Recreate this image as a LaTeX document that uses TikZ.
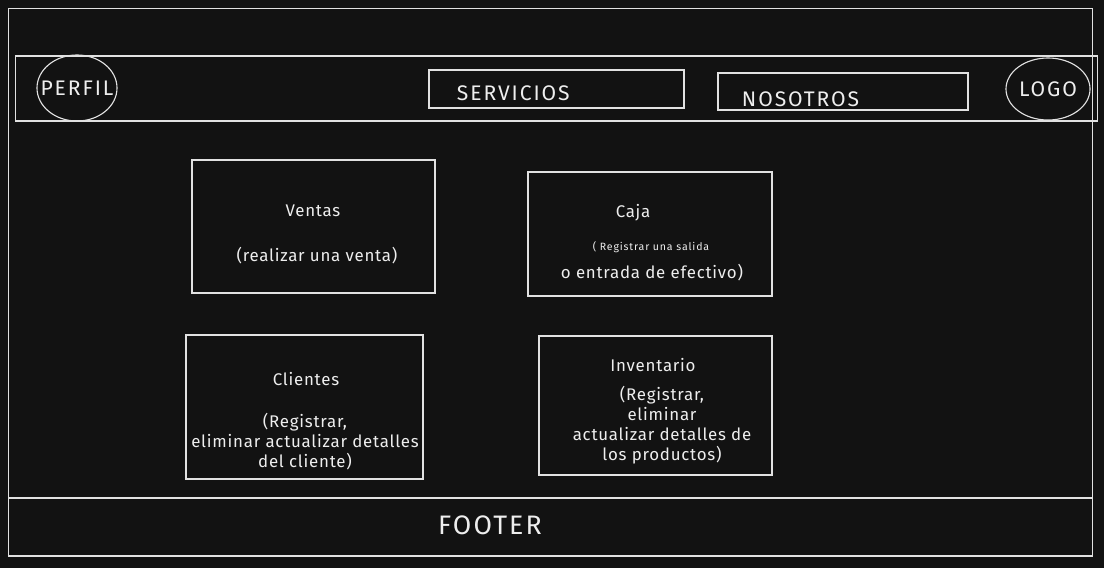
\documentclass[tikz,border=0pt]{standalone}
\usepackage{fontspec}
\setmainfont{Fira Sans}
\usetikzlibrary{positioning,shapes.geometric}
\definecolor{fondo}{RGB}{18,18,18}
\definecolor{trazo}{RGB}{225,225,225}
\definecolor{letra}{RGB}{238,238,238}

\begin{document}
\begin{tikzpicture}[
  x=0.025cm, y=-0.025cm,
  marco/.style={draw=trazo, line width=0.8pt},
  bloque/.style={marco, rectangle, inner sep=0pt},
  ovalo/.style={marco, ellipse, inner sep=0pt},
  menu/.style={font=\fontsize{15}{17}\selectfont\addfontfeature{LetterSpace=9}, text=letra},
  texto/.style={font=\fontsize{12}{14.2}\selectfont\addfontfeature{LetterSpace=4.5}, text=letra, align=center},
  chico/.style={font=\fontsize{7.5}{8}\selectfont\addfontfeature{LetterSpace=8}, text=letra},
]
  % Fondo y margenes
  \fill[fondo] (0,0) rectangle (1104,568);
  \useasboundingbox (0,0) rectangle (1104,568);
  % Marco de la pagina
  \node[bloque, minimum width=27.075cm, minimum height=13.65cm] (pagina) at (550.5,282) {};
  % Barra superior
  \node[bloque, minimum width=27.025cm, minimum height=1.625cm] (barra) at (556.5,88.5) {};
  \node[ovalo, minimum width=2cm, minimum height=1.65cm] (perfil) at (77,88) {};
  \node[menu] (tperfil) at (perfil.center) {PERFIL};
  \node[bloque, minimum width=6.375cm, minimum height=0.95cm] (servicios) at (556.5,89) {};
  \node[menu, anchor=west] (tservicios) at (452,93) {SERVICIOS};
  \node[bloque, minimum width=6.25cm, minimum height=0.925cm] (nosotros) at (843,91.5) {};
  \node[menu, anchor=west] (tnosotros) at (737,99) {NOSOTROS};
  \node[ovalo, minimum width=2.1cm, minimum height=1.55cm] (logo) at (1048,89) {};
  \node[menu] (tlogo) at (logo.center) {LOGO};
  % Modulos
  \node[bloque, minimum width=6.075cm, minimum height=3.325cm] (ventas) at (313.5,226.5) {};
  \node[texto] (tventas) at (313,211) {Ventas};
  \node[texto] (dventas) at (317,256) {(realizar una venta)};
  \node[bloque, minimum width=6.1cm, minimum height=3.1cm] (caja) at (650,234) {};
  \node[texto] (tcaja) at (633,213) {Caja};
  \node[chico] (dcaja) at (651,247) {( Registrar una salida};
  \node[texto] (ecaja) at (652,273) {o entrada de efectivo)};
  \node[bloque, minimum width=5.925cm, minimum height=3.6cm] (clientes) at (304.5,407) {};
  \node[texto] (tclientes) at (306,379) {Clientes};
  \node[texto] (dclientes) at (305,442)
    {(Registrar,\\eliminar actualizar detalles\\del cliente)};
  \node[bloque, minimum width=5.825cm, minimum height=3.475cm] (inventario) at (655.5,405.5) {};
  \node[texto] (tinventario) at (653,365) {Inventario};
  \node[texto] (dinventario) at (662,425)
    {(Registrar,\\eliminar\\actualizar detalles de\\los productos)};
  % Pie de pagina
  \node[bloque, minimum width=27.075cm, minimum height=1.45cm] (pie) at (550.5,527) {};
  \node[font=\fontsize{19}{22}\selectfont\addfontfeature{LetterSpace=8}, text=letra] (tpie) at (490,525) {FOOTER};
\end{tikzpicture}
\end{document}
